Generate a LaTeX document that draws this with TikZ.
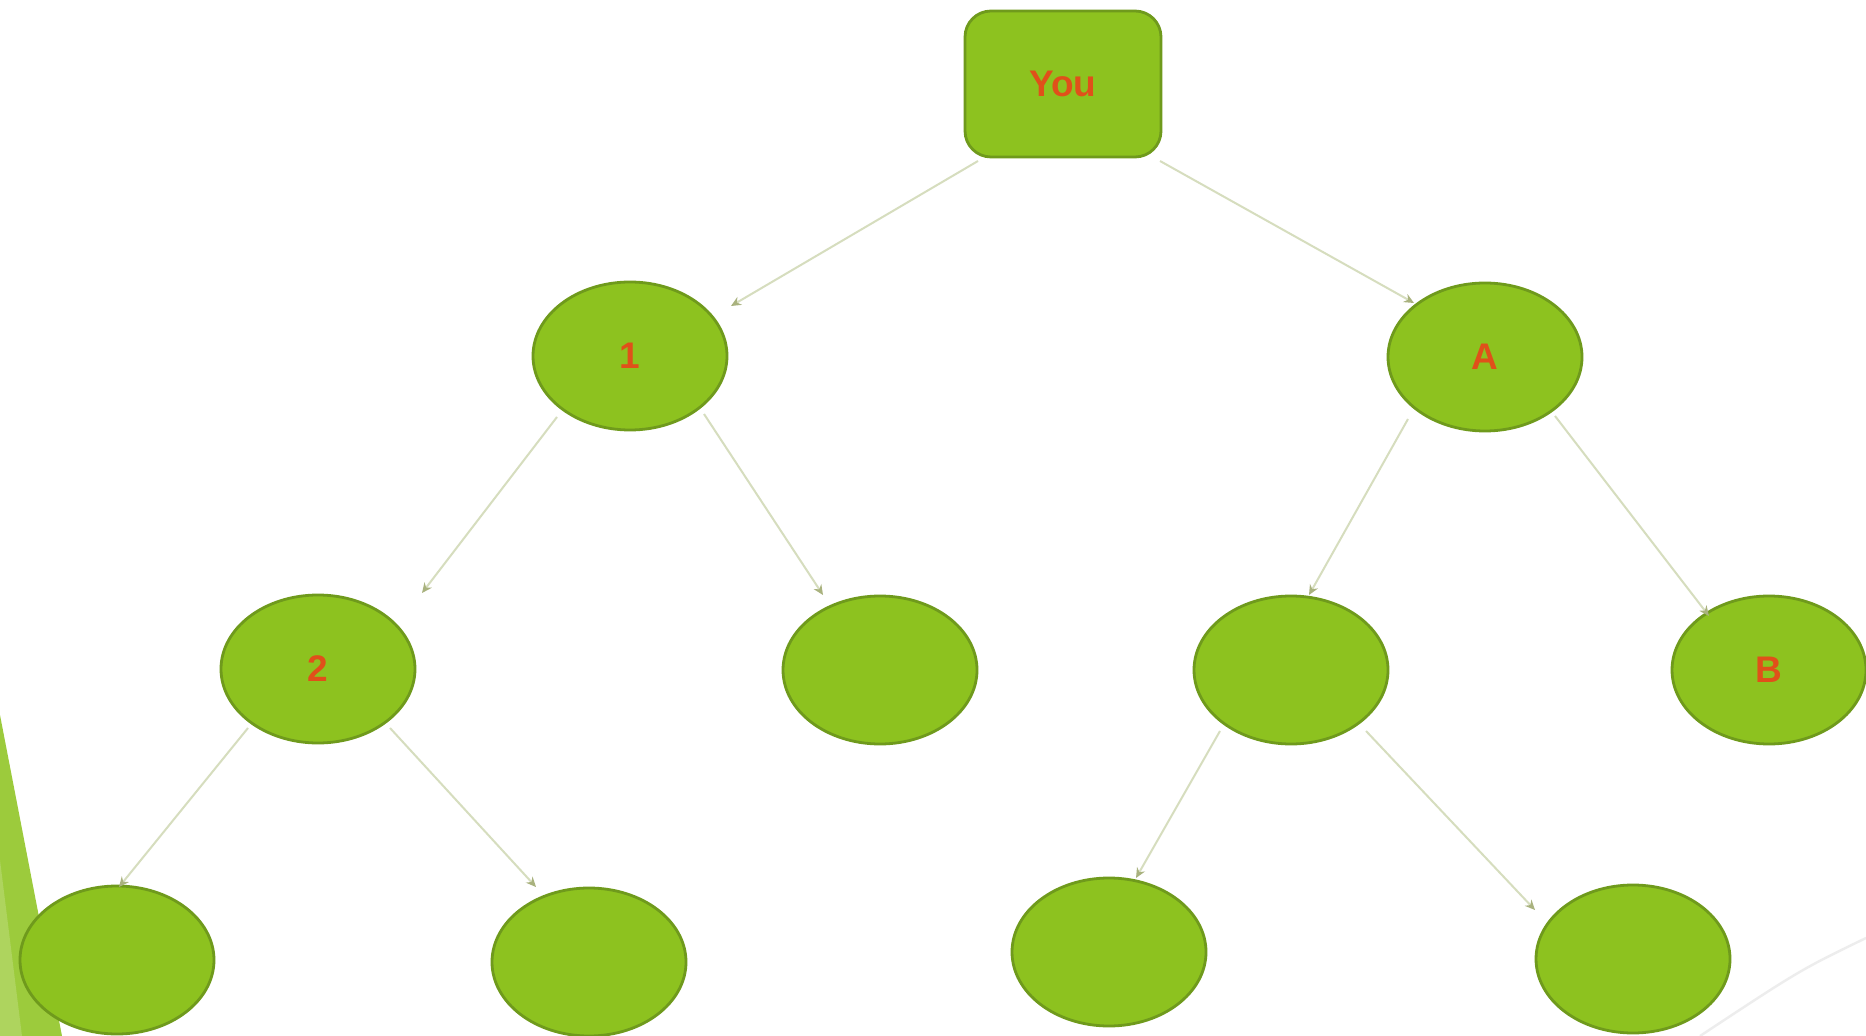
\documentclass[tikz,border=0pt]{standalone}
\usepackage{fontspec}
\setmainfont{Liberation Sans}
\usetikzlibrary{shapes.geometric,arrows.meta}
\definecolor{leaf}{HTML}{8DC21F}
\definecolor{leafedge}{HTML}{6F9A1C}
\definecolor{labelc}{HTML}{E0501A}
\definecolor{arrc}{HTML}{D6DDBE}
\definecolor{tipc}{HTML}{A9B27E}
\definecolor{deco}{HTML}{9CCB3C}
\definecolor{decolight}{HTML}{AED45E}
\tikzset{
  oval/.style={ellipse, draw=leafedge, fill=leaf, line width=1.4pt,
    minimum width=97pt, minimum height=74pt, inner sep=0pt,
    text=labelc, font=\fontsize{18.5}{20}\selectfont\bfseries},
  topbox/.style={rectangle, rounded corners=13pt, draw=leafedge, fill=leaf, line width=1.4pt,
    minimum width=98pt, minimum height=73pt, inner sep=0pt,
    text=labelc, font=\fontsize{18.5}{20}\selectfont\bfseries},
  arr/.style={draw=arrc, line width=1pt, -{Stealth[length=5pt,width=4.5pt,color=tipc]}}
}
\begin{document}
\begin{tikzpicture}[x=0.5pt,y=-0.5pt]
\useasboundingbox (0,0) rectangle (1866,1036);
\fill[white] (0,0) rectangle (1866,1036);
% decorations
\fill[deco] (0,715) -- (62,1036) -- (0,1036) -- cycle;
\fill[decolight] (0,860) -- (22,1036) -- (0,1036) -- cycle;
\draw[gray!14, line width=1.2pt] (1866,938) .. controls (1800,970) .. (1700,1036);
% nodes
\node[topbox] (you) at (1063,84) {You};
\node[oval] (n1) at (630,356) {1};
\node[oval] (nA) at (1485,357) {A};
\node[oval] (n2) at (318,669) {2};
\node[oval] (e1) at (880,670) {};
\node[oval] (e2) at (1291,670) {};
\node[oval] (nB) at (1769,670) {B};
\node[oval] (b1) at (117,960) {};
\node[oval] (b2) at (589,962) {};
\node[oval] (b3) at (1109,952) {};
\node[oval] (b4) at (1633,959) {};
% connectors
\draw[arr] ([shift={(-85,77)}]you.center) -- ([shift={(101,-50)}]n1.center);
\draw[arr] ([shift={(97,77)}]you.center) -- ([shift={(-71,-54)}]nA.center);
\draw[arr] ([shift={(-73,61)}]n1.center) -- ([shift={(104,-76)}]n2.center);
\draw[arr] ([shift={(74,58)}]n1.center) -- ([shift={(-57,-75)}]e1.center);
\draw[arr] ([shift={(-77,62)}]nA.center) -- ([shift={(18,-75)}]e2.center);
\draw[arr] ([shift={(70,59)}]nA.center) -- ([shift={(-60,-54)}]nB.center);
\draw[arr] ([shift={(-70,59)}]n2.center) -- ([shift={(2,-73)}]b1.center);
\draw[arr] ([shift={(72,59)}]n2.center) -- ([shift={(-53,-75)}]b2.center);
\draw[arr] ([shift={(-71,61)}]e2.center) -- ([shift={(27,-74)}]b3.center);
\draw[arr] ([shift={(75,61)}]e2.center) -- ([shift={(-98,-49)}]b4.center);
\end{tikzpicture}
\end{document}
